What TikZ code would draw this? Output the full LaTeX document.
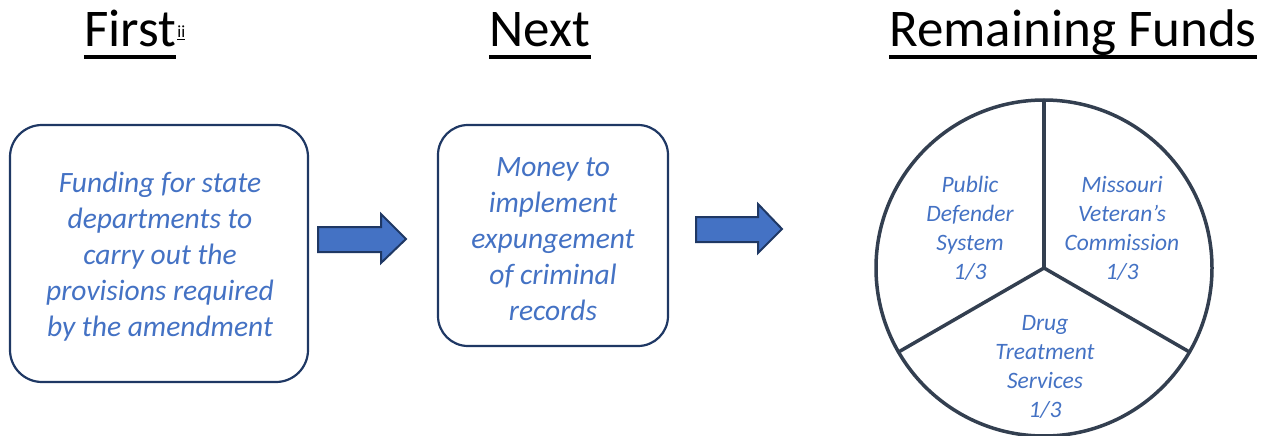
\documentclass[tikz,border=0pt]{standalone}
\usepackage{fontspec}
\setmainfont{Carlito}
\usetikzlibrary{calc}
\definecolor{txtblue}{HTML}{4472C4}
\definecolor{navy}{HTML}{1F3864}
\definecolor{pieline}{HTML}{333F50}
\begin{document}
\begin{tikzpicture}[x=1pt,y=1pt,
  title/.style={font=\fontsize{53}{60}\selectfont, anchor=base, inner sep=0pt, text=black},
  uline/.style={line width=3.5pt, black},
  boxtext/.style={font=\fontsize{29.5}{36}\selectfont\itshape, text=txtblue, align=center},
  rbox/.style={draw=navy, line width=2.2pt, rounded corners=32pt, fill=white},
  blockarrow/.style={draw=navy, fill=txtblue, line width=2pt, line join=miter},
  pietext/.style={font=\fontsize{23.5}{29}\selectfont\itshape, text=txtblue, align=center},
  pie/.style={draw=pieline, line width=3.5pt}
]
\useasboundingbox (0,0) rectangle (1270,-436);
% titles
\node[title] (t1) at (130,-47) {First};
\draw[uline] ([yshift=-10pt]t1.base west) -- ([yshift=-10pt]t1.base east);
\node[font=\fontsize{17}{20}\selectfont, anchor=base west, inner sep=0pt] (t1s) at ([xshift=1pt,yshift=9pt]t1.base east) {\underline{ii}};
\node[title] (t2) at (540,-47) {Next};
\draw[uline] ([yshift=-10pt]t2.base west) -- ([yshift=-10pt]t2.base east);
\node[title] (t3) at (1073,-47) {Remaining Funds};
\draw[uline] ([yshift=-10pt]t3.base west) -- ([yshift=-10pt]t3.base east);
% boxes
\draw[rbox] (10,-125) rectangle (308,-382);
\node[boxtext] (b1) at (160,-257) {Funding for state\\departments to\\carry out the\\provisions required\\by the amendment};
\draw[rbox, rounded corners=30pt] (438,-125) rectangle (668,-346);
\node[boxtext] (b2) at (553,-239) {Money to\\implement\\expungement\\of criminal\\records};
% block arrows
\draw[blockarrow] (318,-227) -- (381,-227) -- (381,-214) -- (406,-239) -- (381,-263) -- (381,-252) -- (318,-252) -- cycle;
\draw[blockarrow] (696,-217) -- (758,-217) -- (758,-204) -- (782,-229) -- (758,-253) -- (758,-242) -- (696,-242) -- cycle;
% pie
\coordinate (c) at (1044,-268);
\draw[pie, fill=white] (c) circle[radius=168pt];
\draw[pie] (c) -- (1044,-100);
\draw[pie] (c) -- ($(c)+(210:168)$);
\draw[pie] (c) -- ($(c)+(330:168)$);
\node[pietext] (p1) at (970,-228) {Public\\Defender\\System\\1/3};
\node[pietext] (p2) at (1122,-228) {Missouri\\Veteran’s\\Commission\\1/3};
\node[pietext] (p3) at (1045,-367) {Drug\\Treatment\\Services\\1/3};
\end{tikzpicture}
\end{document}
